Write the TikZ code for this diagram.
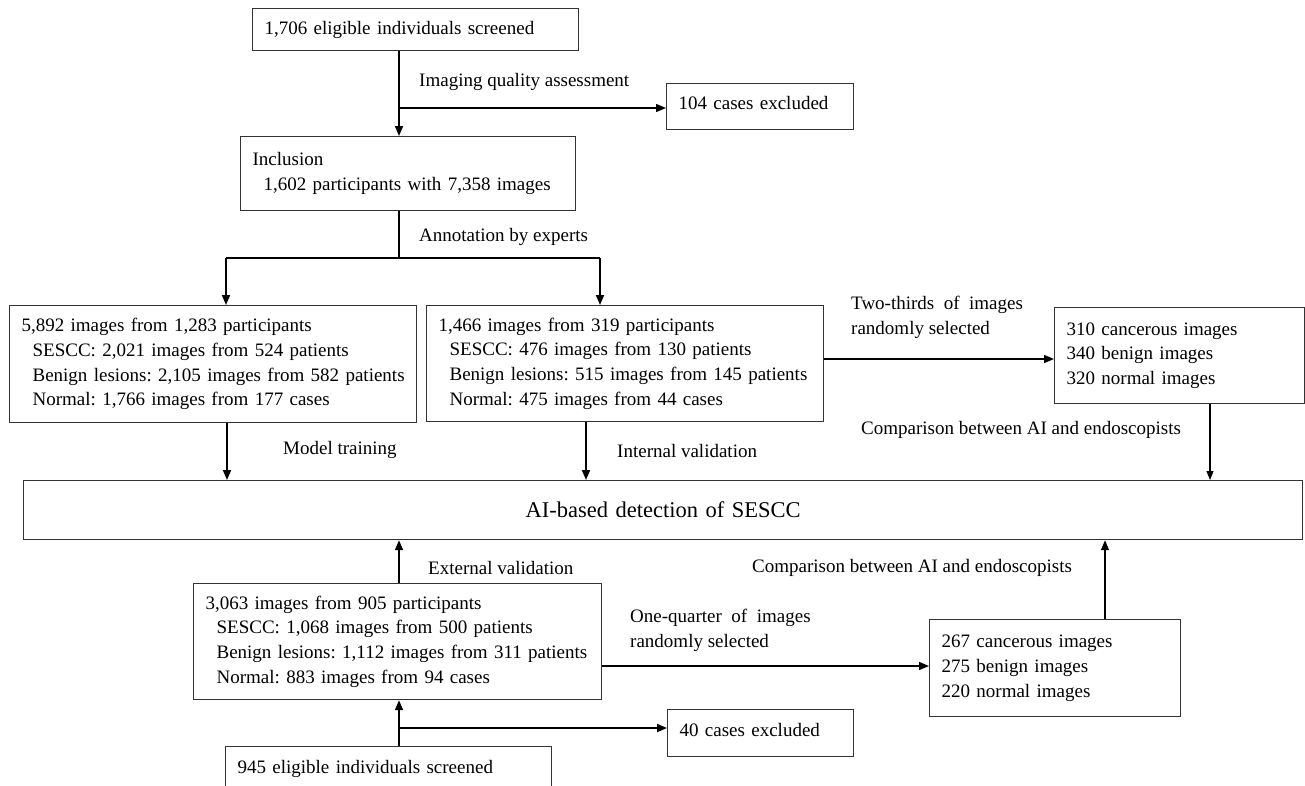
\documentclass[tikz,border=0pt]{standalone}
\usepackage{fontspec}
\setmainfont{Liberation Serif}
\usetikzlibrary{arrows.meta}
\newcommand{\subl}[1]{\mbox{\hspace*{11pt}#1}}
\newcommand{\topl}[1]{\mbox{#1}}
\begin{document}
\frenchspacing
\begin{tikzpicture}[x=1pt,y=-1pt,
  txt/.style={font=\fontsize{19}{24.7}\selectfont},
  box/.style={txt, draw=black!80, line width=1.2pt, anchor=north west, align=left, inner xsep=12pt, inner ysep=0pt},
  lab/.style={txt, anchor=west, inner sep=0pt, align=left},
  arr/.style={draw=black, line width=1.8pt, -{Triangle[length=10pt,width=8pt]}},
  arrm/.style={draw=black, line width=1.4pt, -{Triangle[length=10pt,width=8pt]}},
  arrt/.style={draw=black, line width=1.1pt, -{Triangle[length=9pt,width=7pt]}},
  ln/.style={draw=black, line width=1.2pt}
]
\useasboundingbox (0,0) rectangle (1305,785);
\fill[white] (0,0) rectangle (1305,785);
\clip (0,0) rectangle (1305,785);

% boxes
\node[box, text width=302pt, minimum height=42pt] (b1) at (252,8) {\topl{1,706 eligible individuals screened}};
\node[box, text width=163pt, minimum height=46pt, text depth=8pt] (ex1) at (666,83) {\topl{104 cases excluded}};
\node[box, text width=311pt, minimum height=74pt] (incl) at (240,136) {\topl{Inclusion}\\\subl{1,602 participants with 7,358 images}};
\node[box, text width=383pt, minimum height=117pt] (trn) at (9,305) {\topl{5,892 images from 1,283 participants}\\\subl{SESCC: 2,021 images from 524 patients}\\\subl{Benign lesions: 2,105 images from 582 patients}\\\subl{Normal: 1,766 images from 177 cases}};
\node[box, text width=373pt, minimum height=116pt] (val) at (426,305) {\topl{1,466 images from 319 participants}\\\subl{SESCC: 476 images from 130 patients}\\\subl{Benign lesions: 515 images from 145 patients}\\\subl{Normal: 475 images from 44 cases}};
\node[box, text width=226pt, minimum height=96pt] (tt) at (1054,307) {\topl{310 cancerous images}\\\topl{340 benign images}\\\topl{320 normal images}};
\node[box, font=\fontsize{22.5}{27}\selectfont, align=center, text width=1255pt, minimum height=59pt] (ai) at (23,480) {AI-based detection of SESCC};
\node[box, text width=384pt, minimum height=116pt] (ext) at (193,583) {\topl{3,063 images from 905 participants}\\\subl{SESCC: 1,068 images from 500 patients}\\\subl{Benign lesions: 1,112 images from 311 patients}\\\subl{Normal: 883 images from 94 cases}};
\node[box, text width=227pt, minimum height=97pt] (oq) at (929,619) {\topl{267 cancerous images}\\\topl{275 benign images}\\\topl{220 normal images}};
\node[box, text width=162pt, minimum height=47pt, text depth=7pt] (ex2) at (667,709) {\topl{40 cases excluded}};
\node[box, text width=302pt, minimum height=44pt] (scr2) at (225,746) {\topl{945 eligible individuals screened}};

% labels
\node[lab] (l1) at (419,82) {Imaging quality assessment};
\node[lab] (l2) at (419,237) {Annotation by experts};
\node[lab] (l3) at (283,450) {Model training};
\node[lab] (l4) at (617,451) {Internal validation};
\node[lab] (l5) at (851,317.5) {Two-thirds\ \ of\ \ images\\randomly selected};
\node[lab] (l6) at (861,430) {Comparison between AI and endoscopists};
\node[lab] (l7) at (428,568) {External validation};
\node[lab] (l8) at (630,630.5) {One-quarter\ \ of\ \ images\\randomly selected};
\node[lab] (l9) at (752,568) {Comparison between AI and endoscopists};

% reference coordinates
\coordinate (tx) at (399,0);
\coordinate (lx) at (226,0);
\coordinate (mx) at (600,0);
\coordinate (lx2) at (227,0);
\coordinate (mx2) at (586,0);
\coordinate (rx) at (1210,0);
\coordinate (qx) at (1105,0);
\coordinate (jy1) at (0,108);
\coordinate (jy2) at (0,258);
\coordinate (jy3) at (0,359);
\coordinate (jy4) at (0,666);
\coordinate (jy5) at (0,728);

% connectors
\draw[arr] (b1.south -| tx) -- (incl.north -| tx);
\draw[arrm] (tx |- jy1) -- (ex1.west |- jy1);
\draw[ln] (incl.south -| tx) -- (tx |- jy2);
\draw[ln] (lx |- jy2) -- (mx |- jy2);
\draw[arr] (lx |- jy2) -- (trn.north -| lx);
\draw[arr] (mx |- jy2) -- (val.north -| mx);
\draw[arr] (trn.south -| lx2) -- (ai.north -| lx2);
\draw[arr] (val.south -| mx2) -- (ai.north -| mx2);
\draw[arrm] (val.east |- jy3) -- (tt.west |- jy3);
\draw[arrt] (tt.south -| rx) -- (ai.north -| rx);
\draw[arr] (ext.north -| tx) -- (ai.south -| tx);
\draw[arrm] (ext.east |- jy4) -- (oq.west |- jy4);
\draw[arrm] (oq.north -| qx) -- (ai.south -| qx);
\draw[arr] (scr2.north -| tx) -- (ext.south -| tx);
\draw[arr] (tx |- jy5) -- (ex2.west |- jy5);
\end{tikzpicture}
\end{document}
